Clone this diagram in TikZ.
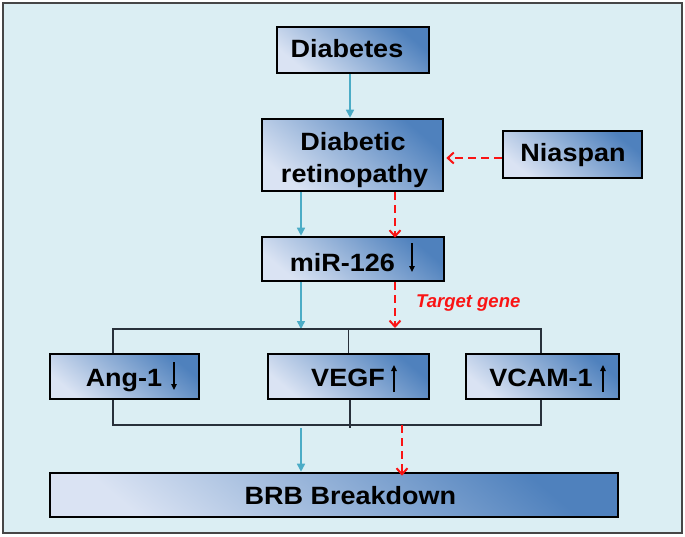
\documentclass[tikz,border=0pt]{standalone}
\usepackage{fontspec}
\setmainfont{Liberation Sans}
\newfontfamily\boxfont{Liberation Sans}[FakeStretch=1.08]
\usetikzlibrary{arrows.meta,calc}
\definecolor{bgc}{RGB}{219,238,243}
\definecolor{framec}{RGB}{70,70,70}
\definecolor{darkb}{RGB}{79,129,189}
\definecolor{lightb}{RGB}{218,227,243}
\definecolor{arrblue}{RGB}{75,172,198}
\definecolor{arrred}{RGB}{250,20,20}
\definecolor{linec}{RGB}{40,48,58}
\tikzset{
  box/.style={draw=black, line width=2.6pt, inner sep=0pt, shade,
    top color=darkb, bottom color=lightb, shading angle=-40},
  lbl/.style={anchor=base, inner sep=0pt, font=\boxfont\bfseries\fontsize{25}{30}\selectfont},
  bluearr/.style={draw=arrblue, line width=1.5pt, -{Triangle[length=8pt,width=8pt]}},
  redarr/.style={draw=arrred, line width=2pt, dash pattern=on 8pt off 5pt,
    -{Straight Barb[length=6pt,width=11pt,line width=2pt]}},
  bracket/.style={draw=linec, line width=1.3pt},
  glyph/.style={draw=black, line width=1.4pt, -{Triangle[length=6pt,width=5.5pt]}}
}
\begin{document}
\begin{tikzpicture}[x=1pt,y=-1pt]
\useasboundingbox (0,0) rectangle (685,536);
\draw[fill=bgc, draw=framec, line width=2pt] (3,3) rectangle (682,533);

% boxes
\node[box, minimum width=152pt, minimum height=46pt] (dia) at (353,50) {};
\node[box, minimum width=181pt, minimum height=72pt] (dr) at (352.5,155) {};
\node[box, minimum width=139pt, minimum height=47pt] (nia) at (572.5,154.5) {};
\node[box, minimum width=182pt, minimum height=44pt] (mir) at (353,259) {};
\node[box, minimum width=149pt, minimum height=45pt] (ang) at (124.5,376.5) {};
\node[box, minimum width=161pt, minimum height=45pt] (vegf) at (348.5,376.5) {};
\node[box, minimum width=153pt, minimum height=45pt] (vcam) at (542.5,376.5) {};
\node[box, minimum width=568pt, minimum height=44pt] (brb) at (334,495) {};

% texts
\node[lbl] (diat) at (347,57) {Diabetes};
\node[lbl] (drt1) at (353,150) {Diabetic};
\node[lbl] (drt2) at (354.5,182) {retinopathy};
\node[lbl] (niat) at (573,161) {Niaspan};
\node[lbl] (mirt) at (342.5,271) {miR-126};
\node[lbl] (angt) at (124,386) {Ang-1};
\node[lbl] (vegft) at (348,386) {VEGF};
\node[lbl] (vcamt) at (541,386) {VCAM-1};
\node[lbl] (brbt) at (350.5,504) {BRB Breakdown};
\node[anchor=base west, inner sep=0pt, text=arrred,
  font=\bfseries\itshape\fontsize{18.5}{22}\selectfont] (tg) at (416,307) {Target gene};

% up/down glyph arrows
\draw[glyph] (412,243) -- (412,272);
\draw[glyph] (174,362) -- (174,390);
\draw[glyph] (394,392) -- (394,365);
\draw[glyph] (603,392) -- (603,365);

% column coordinates
\coordinate (cb) at (301,0);
\coordinate (cr) at (395,0);
\coordinate (cr2) at (402,0);
\coordinate (tl) at (113,329);
\coordinate (tr) at (541,329);
\coordinate (bl) at (113,425);
\coordinate (br) at (541,425);
\coordinate (bend) at (350,428);

% connectors
\draw[bluearr] (dia.south -| 350,0) -- (dr.north -| 350,0);
\draw[redarr] (nia.west |- 0,158) -- ([xshift=2pt]dr.east |- 0,158);
\draw[bluearr] (dr.south -| cb) -- (mir.north -| cb);
\draw[redarr] (dr.south -| cr) -- ([yshift=-2pt]mir.north -| cr);
\draw[bluearr] (mir.south -| cb) -- (tl -| cb);
\draw[redarr] (mir.south -| cr) -- ([yshift=1pt]tl -| cr);

% brackets
\draw[bracket] (ang.north -| tl) -- (tl) -- (tr) -- (vcam.north -| tr);
\draw[bracket] (vegf.north) -- (vegf.north |- tl);
\draw[bracket] (ang.south -| bl) -- (bl) -- (br) -- (vcam.south -| br);
\draw[bracket] (vegf.south -| bend) -- (bend);

\draw[bluearr] (bend -| cb) -- (brb.north -| cb);
\draw[redarr] (bl -| cr2) -- ([yshift=-4pt]brb.north -| cr2);
\end{tikzpicture}
\end{document}
